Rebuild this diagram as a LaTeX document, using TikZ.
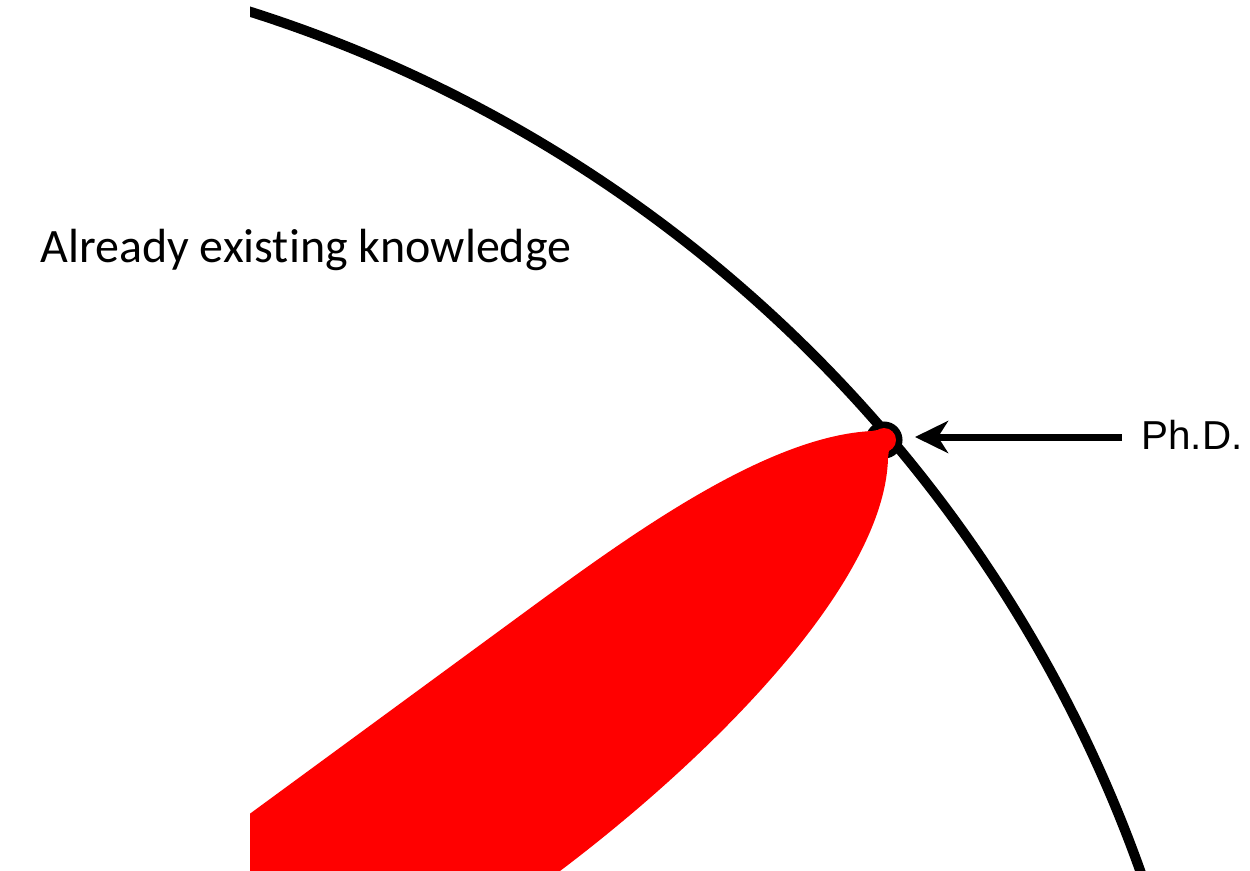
\documentclass[tikz,border=0pt]{standalone}
\usepackage{fontspec}
\newfontfamily\calfont[Ligatures={NoCommon,NoRare}]{Carlito}
\newfontfamily\phdfont{Liberation Sans}
\usetikzlibrary{arrows.meta}
\definecolor{lobered}{RGB}{255,0,0}
\tikzset{
  frontier/.style={draw=black, line width=0.2cm},
  ringstyle/.style={draw=black, line width=0.14cm},
  lobe/.style={fill=lobered, draw=none},
  pointer/.style={draw=black, line width=0.14cm, -{Stealth[length=0.66cm, width=0.64cm, inset=0.2cm]}},
  labeltext/.style={anchor=base west, inner sep=0pt, text=black}
}
\begin{document}
\begin{tikzpicture}[x=0.02cm, y=-0.02cm]
\useasboundingbox (0,0) rectangle (1250,871);
\fill[white] (0,0) rectangle (1250,871);
\coordinate (center) at (-171.4,1339.1);
\coordinate (ring) at (884,440);
\begin{scope}
  \clip (250,0) rectangle (1250,871);
  \draw[frontier] (center) circle (1392.3);
  \draw[ringstyle] (ring) circle (15);
  \fill[lobe] (ring) circle (12);
  \fill[lobe] (150,887) -- (540,601)
    .. controls (640,528) and (770,436) .. (872,431)
    .. controls (894,426) and (890,440) .. (888,458)
    .. controls (885,580) and (720,750) .. (560,871)
    -- (520,901) -- (150,901) -- cycle;
\end{scope}
\node[labeltext, font={\calfont\fontsize{27.3pt}{32pt}\selectfont}] (known) at (40,263) {Already existing knowledge};
\node[labeltext, font={\phdfont\fontsize{23pt}{28pt}\selectfont}] (phd) at (1141,449) {Ph.D.};
\coordinate (arrowstart) at (1122,437);
\coordinate (arrowend) at (915,437);
\draw[pointer] (arrowstart) -- (arrowend);
\end{tikzpicture}
\end{document}
